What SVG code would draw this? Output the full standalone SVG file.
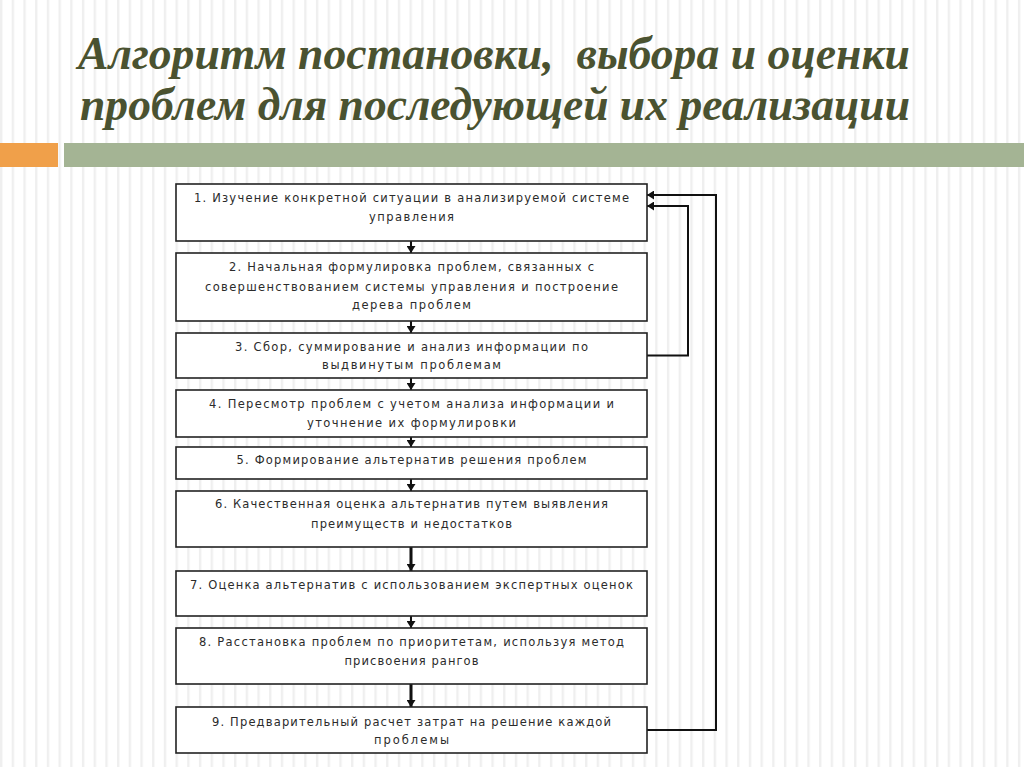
<svg xmlns="http://www.w3.org/2000/svg" width="1024" height="767" viewBox="0 0 1024 767">
<style>
.title{font-family:"Liberation Serif","Times New Roman",serif;font-style:italic;font-weight:bold;font-size:46px;fill:#4a5230;white-space:pre}
.box{fill:#ffffff;stroke:#222222;stroke-width:1.6}
.lbl{font-family:"DejaVu Sans","Verdana",sans-serif;font-size:11.5px;fill:#2b2b2b;text-anchor:middle}
.conn{fill:none;stroke:#111111;stroke-width:2}
</style>
<defs>
<pattern id="stripes" x="0" y="0" width="11.7" height="20" patternUnits="userSpaceOnUse">
<rect x="0" y="0" width="2.4" height="20" fill="#efefef"/>
</pattern>
<marker id="ah" viewBox="0 0 7 9" refX="7" refY="4.5" markerWidth="7" markerHeight="9" markerUnits="userSpaceOnUse" orient="auto">
<path d="M0,0 L7,4.5 L0,9 z" fill="#111111"/>
</marker>
</defs>
<rect x="0" y="0" width="1024" height="767" fill="#ffffff"/>
<rect x="0" y="0" width="1024" height="767" fill="url(#stripes)"/>
<g id="title">
<text class="title" x="78" y="69" textLength="832" lengthAdjust="spacingAndGlyphs" xml:space="preserve">Алгоритм постановки,  выбора и оценки</text>
<text class="title" x="80" y="120" textLength="830" lengthAdjust="spacingAndGlyphs">проблем для последующей их реализации</text>
</g>
<g id="bar">
<rect x="0" y="143" width="58" height="24" fill="#f0a04a"/>
<rect x="64" y="143" width="960" height="24" fill="#a4b494"/>
</g>
<g id="connectors">
<line class="conn" x1="411" y1="241" x2="411" y2="253" marker-end="url(#ah)"/>
<line class="conn" x1="411" y1="321" x2="411" y2="333" marker-end="url(#ah)"/>
<line class="conn" x1="411" y1="378" x2="411" y2="390" marker-end="url(#ah)"/>
<line class="conn" x1="411" y1="437" x2="411" y2="447" marker-end="url(#ah)"/>
<line class="conn" x1="411" y1="479" x2="411" y2="491" marker-end="url(#ah)"/>
<line class="conn" x1="411" y1="547" x2="411" y2="571" marker-end="url(#ah)" style="stroke-width:3"/>
<line class="conn" x1="411" y1="616" x2="411" y2="628" marker-end="url(#ah)"/>
<line class="conn" x1="411" y1="684" x2="411" y2="707" marker-end="url(#ah)" style="stroke-width:3"/>
<polyline class="conn" points="647,355.5 688,355.5 688,206 647,206" marker-end="url(#ah)"/>
<polyline class="conn" points="647,730 716,730 716,195 647,195" marker-end="url(#ah)"/>
</g>
<g id="node1">
<rect class="box" x="176" y="184" width="471" height="57"/>
<text class="lbl" x="411.5" y="202" textLength="435">1. Изучение конкретной ситуации в анализируемой системе</text>
<text class="lbl" x="411.5" y="221" textLength="85">управления</text>
</g>
<g id="node2">
<rect class="box" x="176" y="253" width="471" height="68"/>
<text class="lbl" x="411.5" y="271" textLength="365">2. Начальная формулировка проблем, связанных с</text>
<text class="lbl" x="411.5" y="291" textLength="413">совершенствованием системы управления и построение</text>
<text class="lbl" x="411.5" y="309" textLength="119">дерева проблем</text>
</g>
<g id="node3">
<rect class="box" x="176" y="333" width="471" height="45"/>
<text class="lbl" x="411.5" y="351" textLength="353">3. Сбор, суммирование и анализ информации по</text>
<text class="lbl" x="411.5" y="369" textLength="179">выдвинутым проблемам</text>
</g>
<g id="node4">
<rect class="box" x="176" y="390" width="471" height="47"/>
<text class="lbl" x="411.5" y="408" textLength="405">4. Пересмотр проблем с учетом анализа информации и</text>
<text class="lbl" x="411.5" y="427" textLength="209">уточнение их формулировки</text>
</g>
<g id="node5">
<rect class="box" x="176" y="447" width="471" height="32"/>
<text class="lbl" x="411.5" y="464" textLength="350">5. Формирование альтернатив решения проблем</text>
</g>
<g id="node6">
<rect class="box" x="176" y="491" width="471" height="56"/>
<text class="lbl" x="411.5" y="508" textLength="393">6. Качественная оценка альтернатив путем выявления</text>
<text class="lbl" x="411.5" y="528" textLength="201">преимуществ и недостатков</text>
</g>
<g id="node7">
<rect class="box" x="176" y="571" width="471" height="45"/>
<text class="lbl" x="411.5" y="589" textLength="443">7. Оценка альтернатив с использованием экспертных оценок</text>
</g>
<g id="node8">
<rect class="box" x="176" y="628" width="471" height="56"/>
<text class="lbl" x="411.5" y="646" textLength="425">8. Расстановка проблем по приоритетам, используя метод</text>
<text class="lbl" x="411.5" y="665" textLength="134">присвоения рангов</text>
</g>
<g id="node9">
<rect class="box" x="176" y="707" width="471" height="46"/>
<text class="lbl" x="411.5" y="726" textLength="399">9. Предварительный расчет затрат на решение каждой</text>
<text class="lbl" x="411.5" y="744" textLength="75">проблемы</text>
</g>
</svg>
